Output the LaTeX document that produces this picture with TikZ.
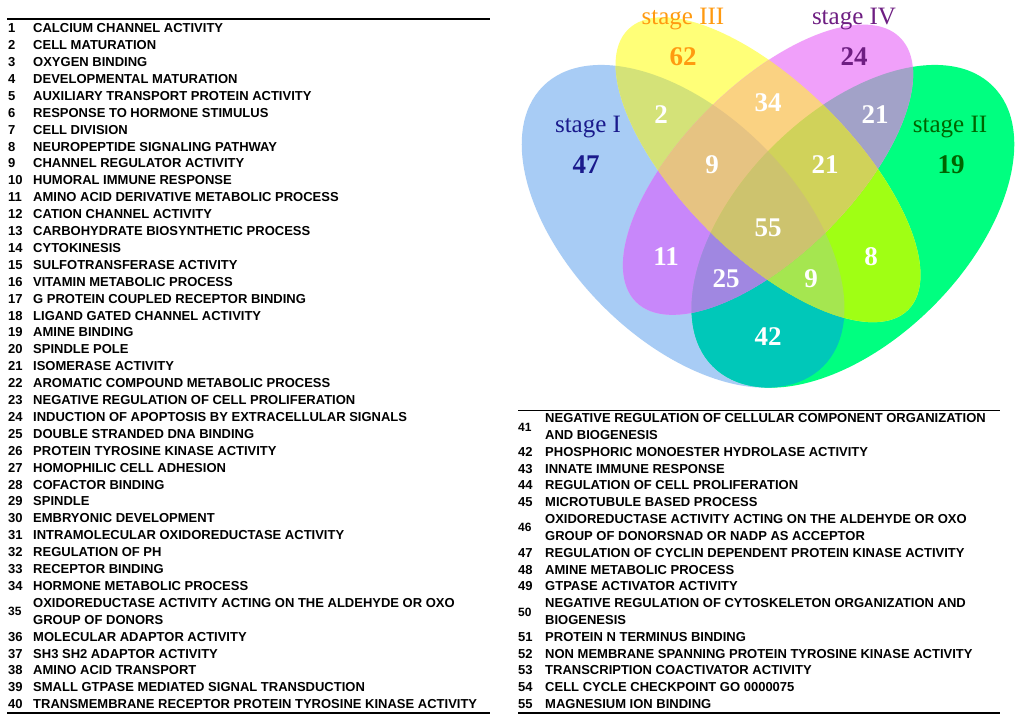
\documentclass[tikz,border=0pt]{standalone}
\usepackage{fontspec}
\setmainfont{Liberation Serif}
\newfontfamily\listfont{Liberation Sans}
\definecolor{cI}{HTML}{A8CCF5}
\definecolor{cII}{HTML}{00FF80}
\definecolor{cIII}{HTML}{FFFF78}
\definecolor{cIV}{HTML}{F0A0FA}
\definecolor{cIxII}{HTML}{00C8B9}
\definecolor{cIxIII}{HTML}{D4E278}
\definecolor{cIxIV}{HTML}{C887FA}
\definecolor{cIIxIII}{HTML}{A0FF14}
\definecolor{cIIxIV}{HTML}{A2A2C8}
\definecolor{cIIIxIV}{HTML}{FAD282}
\definecolor{cIxIIxIII}{HTML}{A5E650}
\definecolor{cIxIIxIV}{HTML}{A087E1}
\definecolor{cIxIIIxIV}{HTML}{E6C382}
\definecolor{cIIxIIIxIV}{HTML}{D0D25A}
\definecolor{cAll}{HTML}{CDC36E}
\definecolor{tI}{HTML}{1A1A8C}
\definecolor{tII}{HTML}{006400}
\definecolor{tIII}{HTML}{FF9A10}
\definecolor{tIV}{HTML}{6E1E82}
\def\ellI{(683.1,-226.3) ellipse [x radius=198.1pt, y radius=113.2pt]}
\def\ellII{(852.9,-226.3) ellipse [x radius=198.1pt, y radius=113.2pt]}
\def\ellIII{(768,-169.7) ellipse [x radius=198.1pt, y radius=84.9pt]}
\def\ellIV{(768,-169.7) ellipse [x radius=186.8pt, y radius=84.9pt]}
\tikzset{
  rotI/.style={rotate around={135:(683.1,-226.3)}},
  rotII/.style={rotate around={45:(852.9,-226.3)}},
  rotIII/.style={rotate around={135:(768,-169.7)}},
  rotIV/.style={rotate around={45:(768,-169.7)}},
  num/.style={anchor=base west, inner sep=0pt, font=\listfont\bfseries\fontsize{13}{15}\selectfont},
  numtwo/.style={anchor=base west, inner sep=0pt, font=\listfont\bfseries\fontsize{12}{14}\selectfont},
  item/.style={anchor=base west, inner sep=0pt, font=\listfont\bfseries\fontsize{13}{15}\selectfont},
  rulestyle/.style={line width=1.6pt, black},
  stagelab/.style={anchor=base, inner sep=0pt, font=\fontsize{25}{30}\selectfont},
  cnt/.style={inner sep=0pt, font=\bfseries\fontsize{27}{32}\selectfont},
  wcnt/.style={cnt, text=white}
}
\begin{document}
\begin{tikzpicture}[x=1pt,y=1pt]
\useasboundingbox (0,0) rectangle (1024,-724);
\fill[white] (0,0) rectangle (1024,-724);
% ---- Venn diagram ----
\fill[cI, rotI] \ellI;
\fill[cII, rotII] \ellII;
\fill[cIII, rotIII] \ellIII;
\fill[cIV, rotIV] \ellIV;
% pairs
\begin{scope}\clip[rotI] \ellI; \clip[rotII] \ellII; \fill[cIxII] (500,0) rectangle (1024,-420); \end{scope}
\begin{scope}\clip[rotI] \ellI; \clip[rotIII] \ellIII; \fill[cIxIII] (500,0) rectangle (1024,-420); \end{scope}
\begin{scope}\clip[rotI] \ellI; \clip[rotIV] \ellIV; \fill[cIxIV] (500,0) rectangle (1024,-420); \end{scope}
\begin{scope}\clip[rotII] \ellII; \clip[rotIII] \ellIII; \fill[cIIxIII] (500,0) rectangle (1024,-420); \end{scope}
\begin{scope}\clip[rotII] \ellII; \clip[rotIV] \ellIV; \fill[cIIxIV] (500,0) rectangle (1024,-420); \end{scope}
\begin{scope}\clip[rotIII] \ellIII; \clip[rotIV] \ellIV; \fill[cIIIxIV] (500,0) rectangle (1024,-420); \end{scope}
% triples
\begin{scope}\clip[rotI] \ellI; \clip[rotII] \ellII; \clip[rotIII] \ellIII; \fill[cIxIIxIII] (500,0) rectangle (1024,-420); \end{scope}
\begin{scope}\clip[rotI] \ellI; \clip[rotII] \ellII; \clip[rotIV] \ellIV; \fill[cIxIIxIV] (500,0) rectangle (1024,-420); \end{scope}
\begin{scope}\clip[rotI] \ellI; \clip[rotIII] \ellIII; \clip[rotIV] \ellIV; \fill[cIxIIIxIV] (500,0) rectangle (1024,-420); \end{scope}
\begin{scope}\clip[rotII] \ellII; \clip[rotIII] \ellIII; \clip[rotIV] \ellIV; \fill[cIIxIIIxIV] (500,0) rectangle (1024,-420); \end{scope}
% all four
\begin{scope}\clip[rotI] \ellI; \clip[rotII] \ellII; \clip[rotIII] \ellIII; \clip[rotIV] \ellIV; \fill[cAll] (500,0) rectangle (1024,-420); \end{scope}
% labels
\node[stagelab, text=tIII] (sIII) at (683,-24) {stage III};
\node[stagelab, text=tIV] (sIV) at (854,-24) {stage IV};
\node[stagelab, text=tI] (sI) at (588,-132) {stage I};
\node[stagelab, text=tII] (sII) at (950,-132) {stage II};
\node[cnt, text=tIII] (v62) at (683,-57) {62};
\node[cnt, text=tIV] (v24) at (854,-57) {24};
\node[cnt, text=tI] (v47) at (586,-165) {47};
\node[cnt, text=tII] (v19) at (951,-165) {19};
\node[wcnt] (v2) at (661,-115) {2};
\node[wcnt] (v34) at (768,-103) {34};
\node[wcnt] (v21a) at (875,-115) {21};
\node[wcnt] (v9a) at (712,-165) {9};
\node[wcnt] (v21b) at (825,-165) {21};
\node[wcnt] (v55) at (768,-228) {55};
\node[wcnt] (v11) at (666,-257) {11};
\node[wcnt] (v8) at (871,-257) {8};
\node[wcnt] (v25) at (726,-279) {25};
\node[wcnt] (v9b) at (811,-279) {9};
\node[wcnt] (v42) at (768,-337) {42};
% ---- left list ----
\draw[rulestyle] (7,-19) -- (490,-19);
\draw[rulestyle] (7,-713) -- (490,-713);
\foreach \kk/\nn/\txt in {0/1/CALCIUM CHANNEL ACTIVITY,1/2/CELL MATURATION,2/3/OXYGEN BINDING,3/4/DEVELOPMENTAL MATURATION,4/5/AUXILIARY TRANSPORT PROTEIN ACTIVITY,5/6/RESPONSE TO HORMONE STIMULUS,6/7/CELL DIVISION,7/8/NEUROPEPTIDE SIGNALING PATHWAY,8/9/CHANNEL REGULATOR ACTIVITY,9/10/HUMORAL IMMUNE RESPONSE,10/11/AMINO ACID DERIVATIVE METABOLIC PROCESS,11/12/CATION CHANNEL ACTIVITY,12/13/CARBOHYDRATE BIOSYNTHETIC PROCESS,13/14/CYTOKINESIS,14/15/SULFOTRANSFERASE ACTIVITY,15/16/VITAMIN METABOLIC PROCESS,16/17/G PROTEIN COUPLED RECEPTOR BINDING,17/18/LIGAND GATED CHANNEL ACTIVITY,18/19/AMINE BINDING,19/20/SPINDLE POLE,20/21/ISOMERASE ACTIVITY,21/22/AROMATIC COMPOUND METABOLIC PROCESS,22/23/NEGATIVE REGULATION OF CELL PROLIFERATION,23/24/INDUCTION OF APOPTOSIS BY EXTRACELLULAR SIGNALS,24/25/DOUBLE STRANDED DNA BINDING,25/26/PROTEIN TYROSINE KINASE ACTIVITY,26/27/HOMOPHILIC CELL ADHESION,27/28/COFACTOR BINDING,28/29/SPINDLE,29/30/EMBRYONIC DEVELOPMENT,30/31/INTRAMOLECULAR OXIDOREDUCTASE ACTIVITY,31/32/REGULATION OF PH,32/33/RECEPTOR BINDING,33/34/HORMONE METABOLIC PROCESS,36/36/MOLECULAR ADAPTOR ACTIVITY,37/37/SH3 SH2 ADAPTOR ACTIVITY,38/38/AMINO ACID TRANSPORT,39/39/SMALL GTPASE MEDIATED SIGNAL TRANSDUCTION,40/40/TRANSMEMBRANE RECEPTOR PROTEIN TYROSINE KINASE ACTIVITY}{
  \pgfmathsetmacro\yy{-(32.7+16.9*\kk)}
  \node[num] (n\nn) at (8,\yy) {\nn};
  \node[item] (t\nn) at (33,\yy) {\txt};
}
\node[numtwo] (n35) at (8,{-(32.7+16.9*34.5)}) {35};
\node[item] (t35a) at (33,{-(32.7+16.9*34)}) {OXIDOREDUCTASE ACTIVITY ACTING ON THE ALDEHYDE OR OXO};
\node[item] (t35b) at (33,{-(32.7+16.9*35)}) {GROUP OF DONORS};
% ---- right list ----
\draw[rulestyle] (518,-410.5) -- (1000,-410.5);
\draw[rulestyle] (518,-713) -- (1000,-713);
\foreach \kk/\nn/\txt in {2/42/PHOSPHORIC MONOESTER HYDROLASE ACTIVITY,3/43/INNATE IMMUNE RESPONSE,4/44/REGULATION OF CELL PROLIFERATION,5/45/MICROTUBULE BASED PROCESS,8/47/REGULATION OF CYCLIN DEPENDENT PROTEIN KINASE ACTIVITY,9/48/AMINE METABOLIC PROCESS,10/49/GTPASE ACTIVATOR ACTIVITY,13/51/PROTEIN N TERMINUS BINDING,14/52/NON MEMBRANE SPANNING PROTEIN TYROSINE KINASE ACTIVITY,15/53/TRANSCRIPTION COACTIVATOR ACTIVITY,16/54/CELL CYCLE CHECKPOINT GO 0000075,17/55/MAGNESIUM ION BINDING}{
  \pgfmathsetmacro\yy{-(422.7+16.81*\kk)}
  \node[num] (n\nn) at (518,\yy) {\nn};
  \node[item] (t\nn) at (545,\yy) {\txt};
}
\node[numtwo] (n41) at (518,{-(422.7+16.81*0.5)}) {41};
\node[item] (t41a) at (545,{-(422.7)}) {NEGATIVE REGULATION OF CELLULAR COMPONENT ORGANIZATION};
\node[item] (t41b) at (545,{-(422.7+16.81)}) {AND BIOGENESIS};
\node[numtwo] (n46) at (518,{-(422.7+16.81*6.5)}) {46};
\node[item] (t46a) at (545,{-(422.7+16.81*6)}) {OXIDOREDUCTASE ACTIVITY ACTING ON THE ALDEHYDE OR OXO};
\node[item] (t46b) at (545,{-(422.7+16.81*7)}) {GROUP OF DONORSNAD OR NADP AS ACCEPTOR};
\node[numtwo] (n50) at (518,{-(422.7+16.81*11.5)}) {50};
\node[item] (t50a) at (545,{-(422.7+16.81*11)}) {NEGATIVE REGULATION OF CYTOSKELETON ORGANIZATION AND};
\node[item] (t50b) at (545,{-(422.7+16.81*12)}) {BIOGENESIS};
\end{tikzpicture}
\end{document}
